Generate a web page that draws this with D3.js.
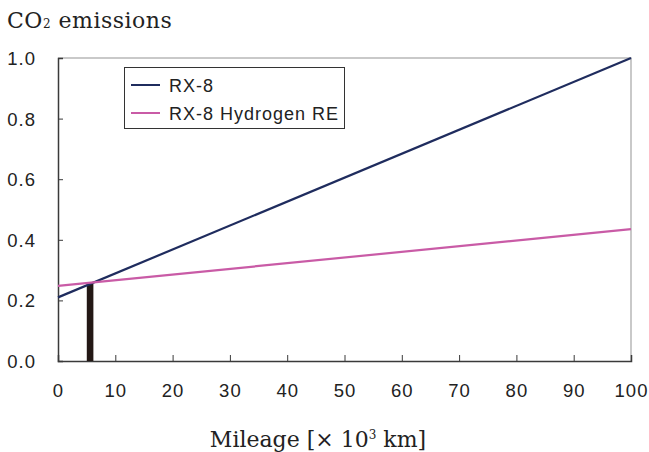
<!DOCTYPE html>
<html><head><meta charset="utf-8">
<script src="https://cdn.jsdelivr.net/npm/d3@7"></script>
<style>body{margin:0;background:#fff}</style>
</head><body>
<svg id="c" width="649" height="452"></svg>
<script>
const seriesNames = ["RX-8", "RX-8 Hydrogen RE"];
const mileage = [0, 100];
const rx8 = [0.21, 1.0];
const hydrogen = [0.248, 0.435];
const barX = [5.6];
const barValue = [0.256];
const xTicks = [0,10,20,30,40,50,60,70,80,90,100];
const yTicks = [0,0.2,0.4,0.6,0.8,1.0];
const colors = ["#1f2c5e", "#c95ba6"];

const svg = d3.select("#c");
const L=58,R=631,T=58,B=361;
const x = d3.scaleLinear().domain([0,100]).range([L,R]);
const y = d3.scaleLinear().domain([0,1]).range([B,T]);
const SANS = "Liberation Sans, Arial, sans-serif";
const SERIF = "DejaVu Serif, serif";

svg.append("path").attr("d",`M${L},${T}H${R}V${B}`).attr("fill","none").attr("stroke","#b8b8b8").attr("stroke-width",1.5);

const yAx = svg.append("g").attr("transform",`translate(${L},0)`)
  .call(d3.axisRight(y).tickValues(yTicks).tickSize(5).tickFormat(""));
yAx.select(".domain").attr("stroke","#3a3a3a").attr("stroke-width",1.5);
yAx.selectAll(".tick line").attr("stroke","#3a3a3a");
const xAx = svg.append("g").attr("transform",`translate(0,${B})`)
  .call(d3.axisTop(x).tickValues(xTicks).tickSize(6).tickFormat(""));
xAx.select(".domain").attr("stroke","#3a3a3a").attr("stroke-width",1.5);
xAx.selectAll(".tick line").attr("stroke","#3a3a3a");

svg.append("g").selectAll("text").data(yTicks).join("text")
  .attr("x",36).attr("y",d=>y(d)+7).attr("text-anchor","end")
  .attr("font-family",SANS).attr("font-size",18.5).attr("letter-spacing",1).attr("fill","#222")
  .text(d=>d.toFixed(1));
svg.append("g").selectAll("text").data(xTicks).join("text")
  .attr("x",d=>x(d)+0.5).attr("y",397).attr("text-anchor","middle")
  .attr("font-family",SANS).attr("font-size",18.5).attr("letter-spacing",1).attr("fill","#222")
  .text(d=>d);

svg.append("g").selectAll("rect").data(barX).join("rect")
  .attr("x",d=>x(d)-3.3).attr("width",6.6)
  .attr("y",(d,i)=>y(barValue[i])).attr("height",(d,i)=>y(0)-y(barValue[i]))
  .attr("fill","#231815");

const line = d3.line().x((d,i)=>x(mileage[i])).y(d=>y(d));
[rx8, hydrogen].forEach((s,i)=>{
  svg.append("path").datum(s).attr("d",line).attr("fill","none")
    .attr("stroke",colors[i]).attr("stroke-width",2.2);
});

const lg = svg.append("g");
lg.append("rect").attr("x",124.5).attr("y",67.5).attr("width",220).attr("height",61)
  .attr("fill","#fff").attr("stroke","#333").attr("stroke-width",1);
seriesNames.forEach((n,i)=>{
  const yy = 85 + i*28;
  lg.append("line").attr("x1",131).attr("x2",160).attr("y1",yy).attr("y2",yy)
    .attr("stroke",colors[i]).attr("stroke-width",2);
  lg.append("text").attr("x",169).attr("y",yy+7)
    .attr("font-family",SANS).attr("font-size",18).attr("letter-spacing",1).attr("fill","#222").text(n);
});

const t = svg.append("text").attr("x",7).attr("y",28)
  .attr("font-family",SERIF).attr("font-size",22).attr("letter-spacing",0.5).attr("fill","#222");
t.append("tspan").text("CO");
t.append("tspan").attr("font-size",12).text("2");
t.append("tspan").text(" emissions");

const xl = svg.append("text").attr("x",318).attr("y",447).attr("text-anchor","middle")
  .attr("font-family",SERIF).attr("font-size",22).attr("fill","#222");
xl.append("tspan").text("Mileage [\u00d7 10");
xl.append("tspan").attr("font-size",12).attr("dy",-8).text("3");
xl.append("tspan").attr("dy",8).text(" km]");
</script>
</body></html>
